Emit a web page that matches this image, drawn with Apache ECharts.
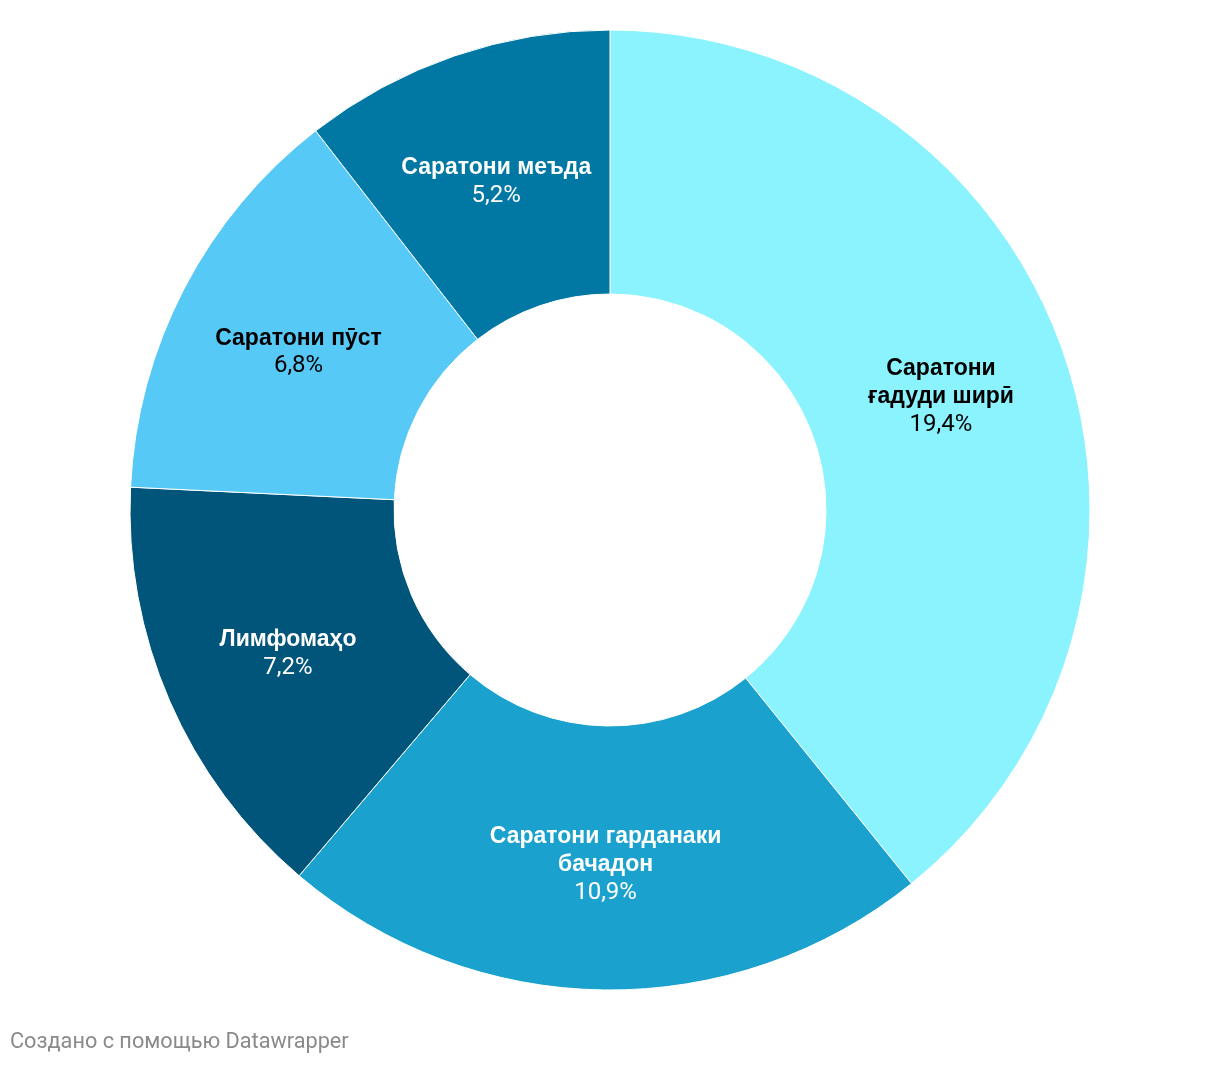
<!DOCTYPE html>
<html>
<head>
<meta charset="utf-8">
<script src="https://cdn.jsdelivr.net/npm/echarts@6/dist/echarts.min.js"></script>
<style>
html,body{margin:0;padding:0;background:#fff;}
#chart{width:1220px;height:1066px;}
</style>
</head>
<body>
<div id="chart"></div>
<script>
const categories = ["Саратони ғадуди ширӣ", "Саратони гарданаки бачадон", "Лимфомаҳо", "Саратони пӯст", "Саратони меъда"];
const labelLines = ["Саратони\nғадуди ширӣ", "Саратони гарданаки\nбачадон", "Лимфомаҳо", "Саратони пӯст", "Саратони меъда"];
const values = [19.4, 10.9, 7.2, 6.8, 5.2];
const colors = ["#8af3fe", "#1aa1cd", "#01547a", "#56c9f6", "#0177a3"];
const textColors = ["#000000", "#ffffff", "#ffffff", "#000000", "#ffffff"];

const chart = echarts.init(document.getElementById('chart'), null, {renderer: 'canvas'});
const data = categories.map((c, i) => ({
  name: c,
  value: values[i],
  itemStyle: {color: colors[i]},
  label: {
    padding: [8, 0, 0, 0],
    formatter: labelLines[i].split('\n').map(s => '{b|' + s + '}').join('\n') + '\n{p|' + values[i].toFixed(1).replace('.', ',') + '%}',
    rich: {
      b: {fontFamily: '"Liberation Sans", Arial, sans-serif', fontWeight: 'bold', fontSize: 23, color: textColors[i], lineHeight: 28},
      p: {fontFamily: 'Roboto', fontSize: 24, color: textColors[i], lineHeight: 28}
    }
  }
}));
chart.setOption({
  animation: false,
  series: [{
    type: 'pie',
    center: [610, 510],
    radius: [216, 480],
    startAngle: 90,
    clockwise: true,
    itemStyle: {borderColor: '#ffffff', borderWidth: 1},
    label: {show: true, position: 'inside', align: 'center'},
    labelLine: {show: false},
    emphasis: {disabled: true},
    data: data
  }],
  graphic: [{
    type: 'text',
    x: 10,
    y: 1043,
    style: {text: 'Создано с помощью Datawrapper', fontFamily: 'Roboto', fontSize: 21.7, fill: '#8a8a8a', textVerticalAlign: 'middle'}
  }]
});
</script>
</body>
</html>
